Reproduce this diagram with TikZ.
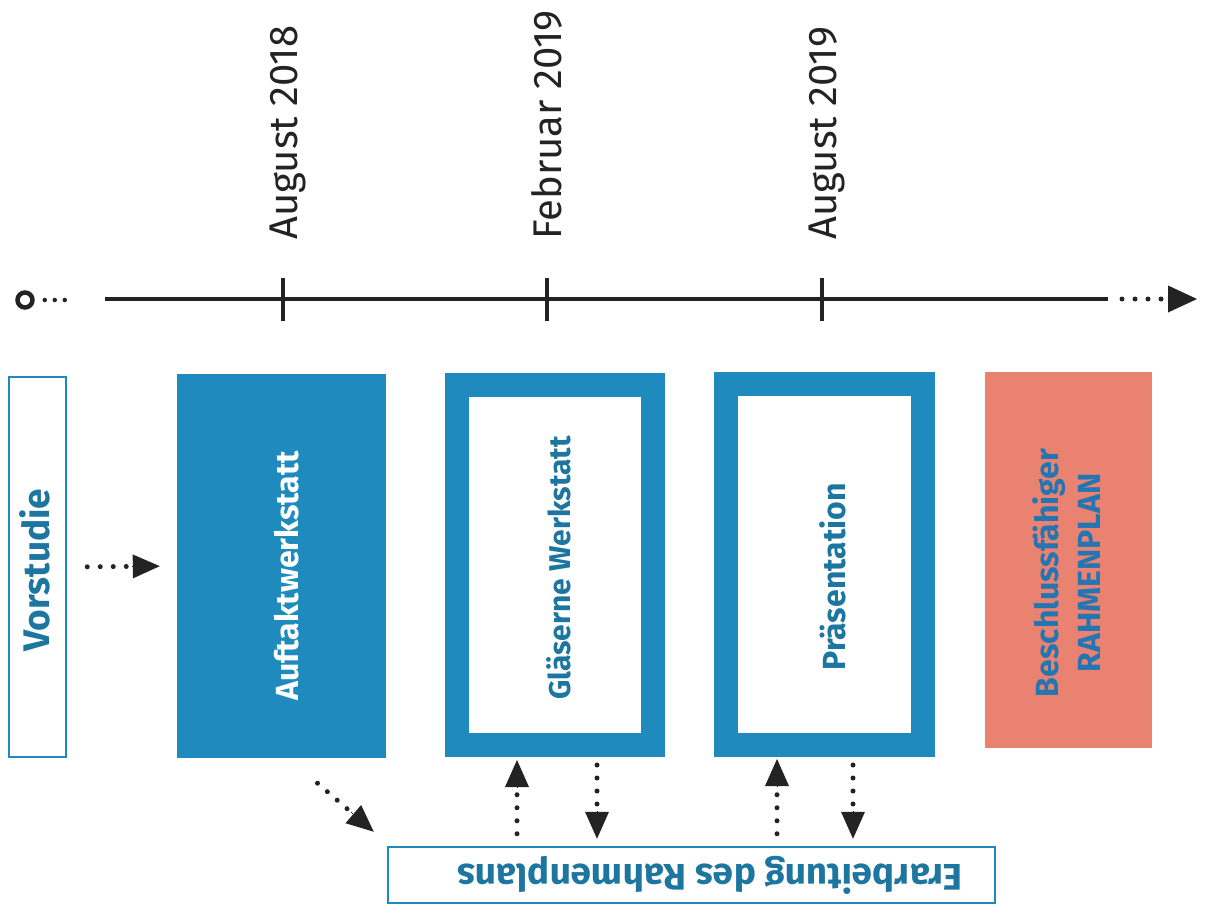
\documentclass[tikz,border=0pt]{standalone}
\usepackage{fontspec}
\setmainfont{Fira Sans}
\usetikzlibrary{arrows.meta,calc}
\definecolor{bfill}{RGB}{30,138,190}
\definecolor{btext}{RGB}{28,118,160}
\definecolor{salmon}{RGB}{234,130,114}
\definecolor{stext}{RGB}{36,118,178}
\definecolor{ink}{RGB}{35,35,35}
\tikzset{
  thinbox/.style={draw=bfill,line width=2.5pt,fill=white,inner sep=0pt},
  fullbox/.style={fill=bfill,draw=none,inner sep=0pt},
  ringbox/.style={draw=bfill,line width=24pt,fill=white,inner sep=0pt},
  goalbox/.style={fill=salmon,draw=none,inner sep=0pt},
  dots/.style={draw=ink,line width=5pt,line cap=round,dash pattern=on 0pt off 13pt},
  smalldots/.style={draw=ink,line width=4.5pt,line cap=round,dash pattern=on 0pt off 10pt},
  tip/.style={-{Triangle[length=27pt,width=24pt]},ink},
  datelabel/.style={rotate=90,font=\fontsize{40}{44}\selectfont,text=ink,anchor=base west,inner sep=0pt},
  boxlabel/.style={rotate=90,font=\fontsize{32}{36}\selectfont\bfseries,align=center}
}
\begin{document}
\begin{tikzpicture}[x=1pt,y=-1pt]
\useasboundingbox[fill=white] (0,0) rectangle (1208,921);
% timeline
\node[circle,draw=ink,line width=4.5pt,minimum size=15pt,inner sep=0pt] (origin) at (25,300) {};
\coordinate (ls) at (105,299);
\coordinate (le) at (1108,299);
\coordinate (tipend) at (1197,299);
\draw[smalldots] ($(origin.east)+(10,0)$) -- ++(21,0);
\draw[ink,line width=4pt] (ls) -- (le);
\draw[dots,line width=5pt] ($(le)+(14,0)$) -- ++(45,0);
\draw[ink,-{Triangle[length=29pt,width=27pt]},line width=0pt] ($(le)+(60,0)$) -- (tipend);
\foreach \x/\n/\t in {283/a/August 2018,547/b/Februar 2019,822/c/August 2019}{
  \coordinate (tk\n) at (\x,299);
  \draw[ink,line width=4pt] ($(tk\n)+(0,-21)$) -- ($(tk\n)+(0,22)$);
  \node[datelabel] (d\n) at ($(tk\n)+(14,-59)$) {\t};
}
% boxes
\node[thinbox,minimum width=57pt,minimum height=380pt] (vor) at (37.5,567) {};
\node[boxlabel,text=btext,font=\fontsize{37}{40}\selectfont\bfseries] at (35,570) {Vorstudie};
\node[fullbox,minimum width=209pt,minimum height=384pt] (auf) at (281.5,566) {};
\node[boxlabel,text=white] at (287,576) {Auftaktwerkstatt};
\node[ringbox,minimum width=196pt,minimum height=360pt] (gl) at (555,565) {};
\node[boxlabel,text=btext,font=\fontsize{30}{36}\selectfont\bfseries] at (559,568) {Gläserne Werkstatt};
\node[ringbox,minimum width=197pt,minimum height=361pt] (pr) at (824.5,564.5) {};
\node[boxlabel,text=btext] at (833,577) {Präsentation};
\node[goalbox,minimum width=167pt,minimum height=376pt] (rp) at (1068.5,560) {};
\node[boxlabel,text=stext,font=\fontsize{32}{42}\selectfont\bfseries] at (1067,573) {Beschlussfähiger\\RAHMENPLAN};
\node[thinbox,minimum width=607pt,minimum height=56pt] (er) at (691.5,875) {};
\node[rotate=180,text=btext,font=\fontsize{37}{40}\selectfont\bfseries] at (710,875) {Erarbeitung des Rahmenplans};
% connectors
\draw[dots,shorten <=20pt,shorten >=40pt] (vor.east) -- (auf.west);
\draw[tip,line width=0pt,shorten <=72pt,shorten >=17pt] (vor.east) -- (auf.west);
\coordinate (xa) at (517,0);
\coordinate (xb) at (597,0);
\coordinate (xc) at (777,0);
\coordinate (xd) at (853,0);
\draw[dots,shorten <=12pt,shorten >=30pt] (er.north -| xa) -- (gl.south -| xa);
\draw[tip,line width=0pt,shorten <=60pt,shorten >=3pt] (er.north -| xa) -- (gl.south -| xa);
\draw[dots,shorten <=8pt,shorten >=32pt] (gl.south -| xb) -- (er.north -| xb);
\draw[tip,line width=0pt,shorten <=55pt,shorten >=7pt] (gl.south -| xb) -- (er.north -| xb);
\draw[dots,shorten <=12pt,shorten >=30pt] (er.north -| xc) -- (pr.south -| xc);
\draw[tip,line width=0pt,shorten <=60pt,shorten >=2pt] (er.north -| xc) -- (pr.south -| xc);
\draw[dots,shorten <=8pt,shorten >=32pt] (pr.south -| xd) -- (er.north -| xd);
\draw[tip,line width=0pt,shorten <=55pt,shorten >=7pt] (pr.south -| xd) -- (er.north -| xd);
\coordinate (ds) at ($(auf.south)+(36,25)$);
\coordinate (de) at ($(er.north west)+(-13,-14)$);
\draw[dots,shorten >=28pt] (ds) -- (de);
\draw[tip,line width=0pt,shorten <=45pt] (ds) -- (de);
\end{tikzpicture}
\end{document}
